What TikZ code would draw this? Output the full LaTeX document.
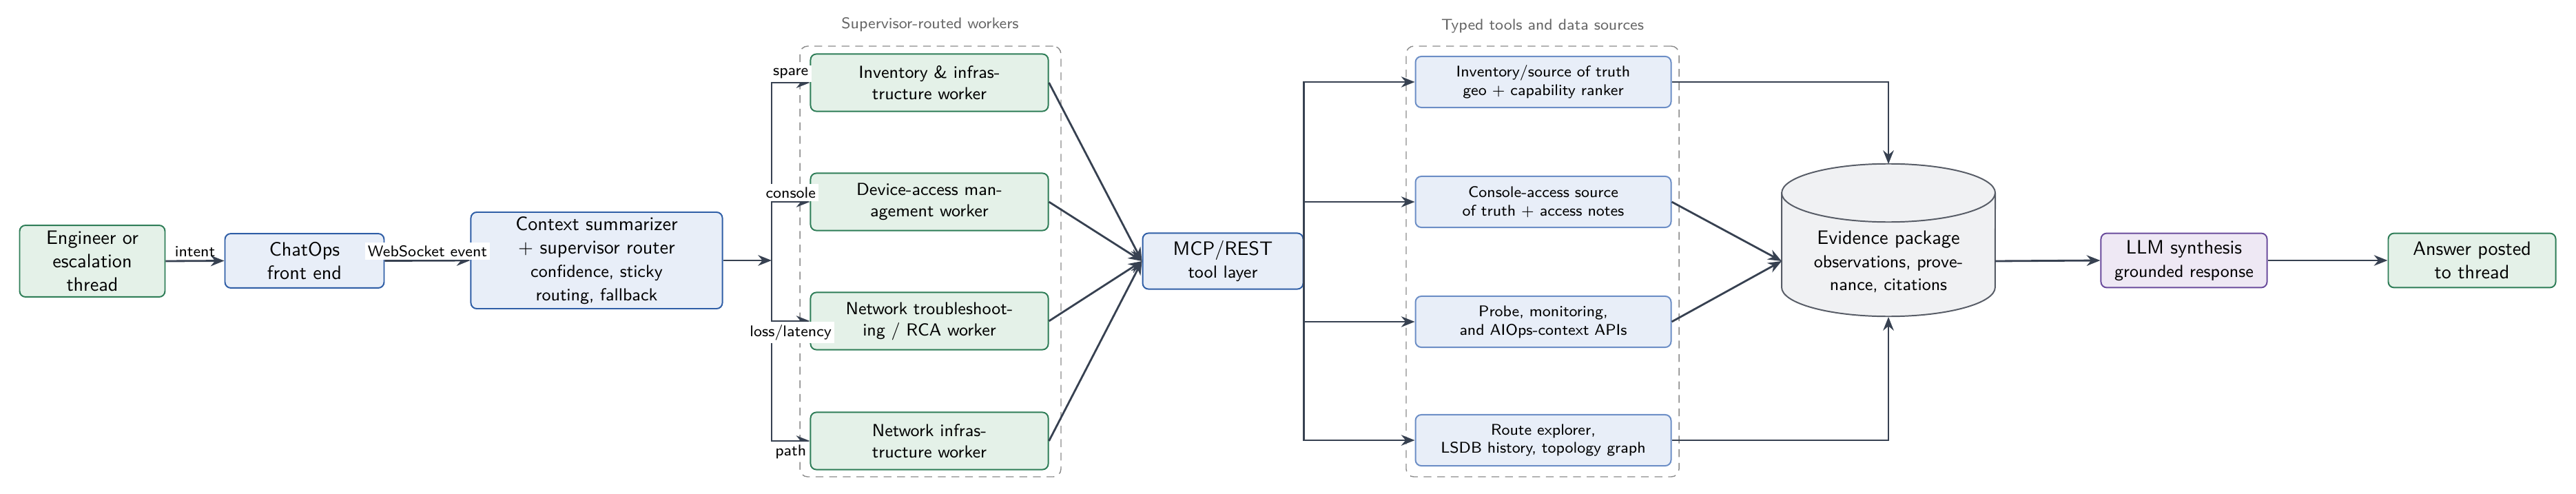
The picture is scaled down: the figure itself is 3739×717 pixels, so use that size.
\documentclass[tikz,border=0pt]{standalone}
\usetikzlibrary{arrows.meta}
\definecolor{arrowc}{HTML}{374151}
\definecolor{greenD}{HTML}{2E7D57}
\definecolor{greenF}{HTML}{E4F1E8}
\definecolor{blueD}{HTML}{2F5EA6}
\definecolor{blueF}{HTML}{E8EEF8}
\definecolor{toolD}{HTML}{6C8EC6}
\definecolor{purpD}{HTML}{6A4C9C}
\definecolor{purpF}{HTML}{EEE8F4}
\definecolor{cylD}{HTML}{575C66}
\definecolor{cylF}{HTML}{F0F1F3}
\definecolor{grpc}{HTML}{8A8A8A}
\definecolor{titc}{HTML}{666666}
\begin{document}
\begin{tikzpicture}[x=0.355pt,y=-0.355pt, font=\sffamily,
  box/.style={draw, rounded corners=3pt, line width=0.7pt, align=center, inner sep=2pt},
  greenbox/.style={box, draw=greenD, fill=greenF},
  bluebox/.style={box, draw=blueD, fill=blueF},
  workerbox/.style={box, draw=greenD, fill=greenF, font=\sffamily\small, minimum width=122.5pt, minimum height=29.5pt},
  toolbox/.style={box, draw=toolD, fill=blueF, font=\sffamily\footnotesize, minimum width=131.7pt, minimum height=26.3pt},
  purpbox/.style={box, draw=purpD, fill=purpF},
  arr/.style={-{Stealth[length=7pt,width=5.5pt]}, line width=1pt, draw=arrowc},
  lbl/.style={font=\sffamily\footnotesize, fill=white, inner sep=1.5pt},
  grp/.style={draw=grpc, dash pattern=on 4pt off 3pt, rounded corners=4pt, line width=0.5pt},
  grptitle/.style={font=\sffamily\footnotesize, text=titc},
  cyl/.style={draw=cylD, fill=cylF, line width=0.7pt},
]
\useasboundingbox (0,0) rectangle (3739,717);

% groups
\node[grp, minimum width=134.5pt, minimum height=221.9pt] (wgrp) at (1350.5,379.5) {};
\node[grptitle] (wtitle) at (1350,36) {Supervisor-routed workers};
\node[grp, minimum width=140.6pt, minimum height=221.9pt] (tgrp) at (2239,379.5) {};
\node[grptitle] (ttitle) at (2239,38) {Typed tools and data sources};

% main nodes
\node[greenbox, minimum width=74.9pt, minimum height=36.9pt] (eng) at (134,379) {Engineer or\\escalation\\thread};
\node[bluebox, minimum width=82pt, minimum height=28pt] (chat) at (442,378.5) {ChatOps\\front end};
\node[bluebox, minimum width=129.6pt, minimum height=49.7pt] (ctx) at (866,378) {Context summarizer\\+ supervisor router\\{\small confidence, sticky}\\{\small routing, fallback}};
\coordinate (br) at (1120,378);

\node[workerbox] (w1) at (1349,120) {Inventory \& infras-\\tructure worker};
\node[workerbox] (w2) at (1349,293) {Device-access man-\\agement worker};
\node[workerbox] (w3) at (1349,466) {Network troubleshoot-\\ing / RCA worker};
\node[workerbox] (w4) at (1349,640) {Network infras-\\tructure worker};

\node[bluebox, minimum width=82.7pt, minimum height=28.8pt] (mcp) at (1775,379) {MCP/REST\\{\small tool layer}};

\node[toolbox] (t1) at (2240,119) {Inventory/source of truth\\geo + capability ranker};
\node[toolbox] (t2) at (2240,293) {Console-access source\\of truth + access notes};
\node[toolbox] (t3) at (2240,467) {Probe, monitoring,\\and AIOps-context APIs};
\node[toolbox] (t4) at (2240,639) {Route explorer,\\LSDB history, topology graph};

% evidence cylinder
\path[cyl] (2586,280) -- (2586,417)
  arc[start angle=180, end angle=360, x radius=55pt, y radius=15pt]
  -- (2896,280)
  arc[start angle=0, end angle=180, x radius=55pt, y radius=15pt] -- cycle;
\draw[draw=cylD, line width=0.7pt] (2586,280) arc[start angle=180, end angle=360, x radius=55pt, y radius=15pt];
\node[align=center] (ev) at (2741,380) {Evidence package\\{\small observations, prove-}\\{\small nance, citations}};
\coordinate (evtop) at (2741,238);
\coordinate (evbot) at (2741,460);
\coordinate (evw) at (2586,379);
\coordinate (eve) at (2896,379);

\node[purpbox, minimum width=85.6pt, minimum height=28pt] (llm) at (3170,378) {LLM synthesis\\{\small grounded response}};
\node[greenbox, minimum width=86.3pt, minimum height=28pt] (ans) at (3588,378) {Answer posted\\to thread};

% connectors
\draw[arr] (eng.east) -- node[lbl, above, fill=none] {intent} (chat.west);
\draw[arr] (chat.east) -- node[lbl, above] {WebSocket event} (ctx.west);
\draw[arr] (ctx.east) -- (br);

\draw[arr] (br) |- node[lbl, pos=0.75, above] {spare} (w1.west);
\draw[arr] (br) |- node[lbl, pos=0.75, below] {path} (w4.west);
\draw[arr] (br) |- node[lbl, pos=0.75, above] {console} (w2.west);
\draw[arr] (br) |- node[lbl, pos=0.75, below] {loss/latency} (w3.west);

\foreach \w in {w1,w2,w3,w4} \draw[arr] (\w.east) -- (mcp.west);
\foreach \t in {t1,t2,t3,t4} \draw[arr] (mcp.east) |- (\t.west);

\draw[arr] (t1.east) -| (evtop);
\draw[arr] (t2.east) -- (evw);
\draw[arr] (t3.east) -- (evw);
\draw[arr] (t4.east) -| (evbot);

\draw[arr] (eve) -- (llm.west);
\draw[arr] (llm.east) -- (ans.west);
\end{tikzpicture}
\end{document}
